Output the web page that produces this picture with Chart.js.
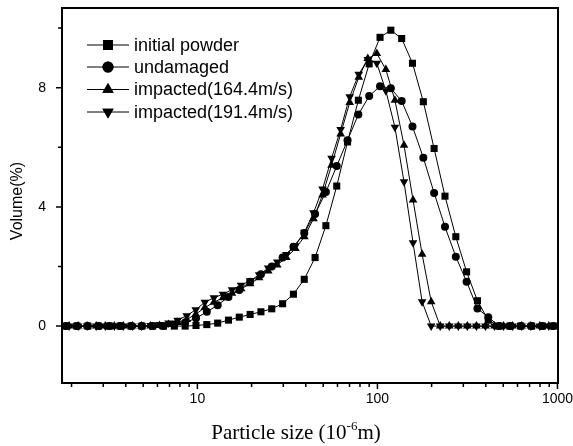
<!DOCTYPE html>
<html>
<head>
<meta charset="utf-8">
<script src="https://cdn.jsdelivr.net/npm/chart.js@4.4.1/dist/chart.umd.min.js"></script>
<style>
  html, body { margin: 0; padding: 0; background: #fff; }
  #wrap { width: 573px; height: 446px; }
</style>
</head>
<body>
<div id="wrap"><canvas id="psd" width="573" height="446"></canvas></div>
<script>
// Particle size bins (um). Powder/undamaged and the impacted samples use different bin grids.
const sizesA = [1.865, 2.141, 2.460, 2.825, 3.245, 3.727, 4.280, 4.915, 5.644, 6.483,
  7.446, 8.551, 9.822, 11.28, 12.96, 14.88, 17.09, 19.63, 22.54, 25.89,
  29.74, 34.15, 39.23, 45.05, 51.74, 59.43, 68.23, 78.37, 90.01, 103.4,
  118.7, 136.4, 156.6, 179.9, 206.5, 237.3, 272.5, 312.9, 359.4, 412.8,
  474.0, 544.4, 625.3, 718.2, 824.9, 947.3];
const sizesB = [1.938, 2.176, 2.442, 2.742, 3.078, 3.456, 3.880, 4.357, 4.891, 5.491,
  6.166, 6.922, 7.772, 8.727, 9.797, 11.00, 12.35, 13.87, 15.57, 17.48,
  19.63, 22.03, 24.74, 27.77, 31.18, 35.01, 39.31, 44.14, 49.55, 55.64,
  62.47, 70.14, 78.76, 88.41, 99.24, 111.4, 125.1, 140.5, 157.7, 177.1,
  198.9, 223.3, 250.6, 281.4, 315.9, 354.7, 398.2, 447.1, 501.9, 563.5,
  632.7, 710.4, 797.6, 895.4, 1005];

// Volume (%)
const initialPowder = [0, 0, 0, 0, 0, 0, 0, 0, 0, 0,
  0, 0, 0.02, 0.05, 0.1, 0.2, 0.3, 0.39, 0.48, 0.58,
  0.75, 1.07, 1.57, 2.3, 3.37, 4.7, 6.18, 7.58, 8.8, 9.69,
  9.93, 9.65, 8.82, 7.53, 5.96, 4.36, 3.0, 1.82, 0.85, 0.2,
  0, 0, 0, 0, 0, 0];
const undamaged = [0, 0, 0, 0, 0, 0, 0, 0, 0, 0,
  0.05, 0.12, 0.26, 0.48, 0.7, 0.98, 1.21, 1.49, 1.74, 2.0,
  2.3, 2.66, 3.12, 3.76, 4.5, 5.37, 6.24, 7.1, 7.72, 8.05,
  7.98, 7.55, 6.7, 5.65, 4.47, 3.33, 2.33, 1.49, 0.59, 0.3,
  0, 0, 0, 0, 0, 0];
const impacted164 = [0, 0, 0, 0, 0, 0, 0, 0, 0, 0,
  0.02, 0.05, 0.12, 0.22, 0.4, 0.62, 0.8, 0.95, 1.1, 1.25,
  1.42, 1.62, 1.85, 2.05, 2.3, 2.6, 3.0, 3.6, 4.4, 5.4,
  6.45, 7.5, 8.35, 8.98, 9.15, 8.61, 7.58, 6.07, 4.23, 2.41,
  0.82, 0, 0, 0, 0, 0, 0, 0, 0, 0,
  0, 0, 0, 0, 0];
const impacted191 = [0, 0, 0, 0, 0, 0, 0, 0, 0, 0.02,
  0.05, 0.1, 0.2, 0.35, 0.55, 0.8, 0.95, 1.07, 1.22, 1.37,
  1.52, 1.72, 1.95, 2.15, 2.4, 2.7, 3.15, 3.8, 4.6, 5.63,
  6.6, 7.7, 8.45, 8.95, 8.82, 7.9, 6.67, 4.84, 2.8, 0.82,
  0, 0, 0, 0, 0, 0, 0, 0, 0, 0,
  0, 0, 0, 0, 0];

const seriesNames = ['initial powder', 'undamaged', 'impacted(164.4m/s)', 'impacted(191.4m/s)'];

const xTicks = [2, 3, 4, 5, 6, 7, 8, 9, 10, 20, 30, 40, 50, 60, 70, 80, 90,
  100, 200, 300, 400, 500, 600, 700, 800, 900, 1000];
const xTickLabels = [10, 100, 1000];
const yTicks = [0, 2, 4, 6, 8, 10];
const yTickLabels = [0, 4, 8];

const SANS = "'Liberation Sans', Arial, sans-serif";
const SERIF = "'Liberation Serif', 'Times New Roman', serif";

// marker per series (legend uses bigger ones)
const markers = [
  { pointStyle: 'rect', radius: 5, rotation: 0, legendRadius: 7 },
  { pointStyle: 'circle', radius: 4, rotation: 0, legendRadius: 5.5 },
  { pointStyle: 'triangle', radius: 5, rotation: 0, legendRadius: 6.5 },
  { pointStyle: 'triangle', radius: 5, rotation: 180, legendRadius: 6.5 }
];

const toPoints = (xs, ys) => ys.map((v, i) => ({ x: xs[i], y: v }));
const seriesData = [
  toPoints(sizesA, initialPowder),
  toPoints(sizesA, undamaged),
  toPoints(sizesB, impacted164),
  toPoints(sizesB, impacted191)
];

// frame, tick marks, legend and axis titles drawn like the original plot
const framePlugin = {
  id: 'frame',
  afterDraw(chart) {
    const { ctx, chartArea: a, scales: { x, y } } = chart;
    ctx.save();
    ctx.strokeStyle = '#000';
    ctx.fillStyle = '#000';

    // outward tick marks
    ctx.lineWidth = 1.5;
    ctx.beginPath();
    x.ticks.forEach(t => {
      const px = x.getPixelForValue(t.value);
      const len = xTickLabels.includes(t.value) ? 6 : 4;
      ctx.moveTo(px, a.bottom);
      ctx.lineTo(px, a.bottom + len);
    });
    y.ticks.forEach(t => {
      const py = y.getPixelForValue(t.value);
      const len = yTickLabels.includes(t.value) ? 6 : 4;
      ctx.moveTo(a.left, py);
      ctx.lineTo(a.left - len, py);
    });
    ctx.stroke();

    // box
    ctx.lineWidth = 2;
    ctx.strokeRect(a.left, a.top, a.right - a.left, a.bottom - a.top);

    // legend: line - marker - line, then text
    ctx.font = '18px ' + SANS;
    ctx.textBaseline = 'middle';
    ctx.textAlign = 'left';
    const rows = [45, 67, 89.5, 112];
    seriesNames.forEach((name, i) => {
      const ly = rows[i];
      ctx.lineWidth = 1;
      ctx.beginPath();
      ctx.moveTo(87, ly);
      ctx.lineTo(129, ly);
      ctx.stroke();
      Chart.helpers.drawPoint(ctx, {
        pointStyle: markers[i].pointStyle,
        radius: markers[i].legendRadius,
        rotation: markers[i].rotation,
        borderWidth: 0
      }, 108, ly);
      ctx.fill();
      ctx.fillText(name, 134, ly + 1);
    });

    // y title
    ctx.save();
    ctx.translate(18, 201);
    ctx.rotate(-Math.PI / 2);
    ctx.textAlign = 'center';
    ctx.font = '16px ' + SANS;
    ctx.fillText('Volume(%)', 0, 0);
    ctx.restore();

    // x title with superscript
    const part1 = 'Particle size (10';
    const sup = '-6';
    const part2 = 'm)';
    ctx.textBaseline = 'alphabetic';
    ctx.font = '21px ' + SERIF;
    const w1 = ctx.measureText(part1).width;
    const w3 = ctx.measureText(part2).width;
    ctx.font = '13px ' + SERIF;
    const w2 = ctx.measureText(sup).width;
    let tx = 296 - (w1 + w2 + w3) / 2;
    const base = 439;
    ctx.font = '21px ' + SERIF;
    ctx.fillText(part1, tx, base);
    tx += w1;
    ctx.font = '13px ' + SERIF;
    ctx.fillText(sup, tx, base - 9);
    tx += w2;
    ctx.font = '21px ' + SERIF;
    ctx.fillText(part2, tx, base);
    ctx.restore();
  }
};

new Chart(document.getElementById('psd'), {
  type: 'line',
  data: {
    datasets: seriesData.map((pts, i) => ({
      label: seriesNames[i],
      data: pts,
      borderColor: '#000',
      backgroundColor: '#000',
      borderWidth: 1,
      tension: 0,
      pointStyle: markers[i].pointStyle,
      pointRadius: markers[i].radius,
      pointRotation: markers[i].rotation,
      pointBackgroundColor: '#000',
      pointBorderWidth: 0,
      pointHoverRadius: markers[i].radius
    }))
  },
  options: {
    responsive: false,
    animation: false,
    layout: { padding: { top: 8, right: 15, left: 0, bottom: 0 } },
    plugins: {
      legend: { display: false },
      tooltip: { enabled: false }
    },
    scales: {
      x: {
        type: 'logarithmic',
        min: 1.77,
        max: 1007,
        grid: { display: false },
        border: { display: false },
        afterBuildTicks: scale => {
          scale.ticks = xTicks.map(v => ({ value: v }));
        },
        afterFit: scale => {
          scale.height = 63;
          scale.paddingLeft = 0;
          scale.paddingRight = 0;
        },
        ticks: {
          autoSkip: false,
          maxRotation: 0,
          padding: 0,
          color: '#000',
          font: { family: SANS, size: 14 },
          callback: value => xTickLabels.includes(value) ? String(value) : ''
        }
      },
      y: {
        type: 'linear',
        min: -1.91,
        max: 10.675,
        grid: { display: false },
        border: { display: false },
        afterBuildTicks: scale => {
          scale.ticks = yTicks.map(v => ({ value: v }));
        },
        afterFit: scale => {
          scale.width = 62;
          scale.paddingTop = 0;
          scale.paddingBottom = 0;
        },
        ticks: {
          padding: 8,
          color: '#000',
          font: { family: SANS, size: 14 },
          callback: value => yTickLabels.includes(value) ? String(value) : ''
        }
      }
    }
  },
  plugins: [framePlugin]
});
</script>
</body>
</html>
